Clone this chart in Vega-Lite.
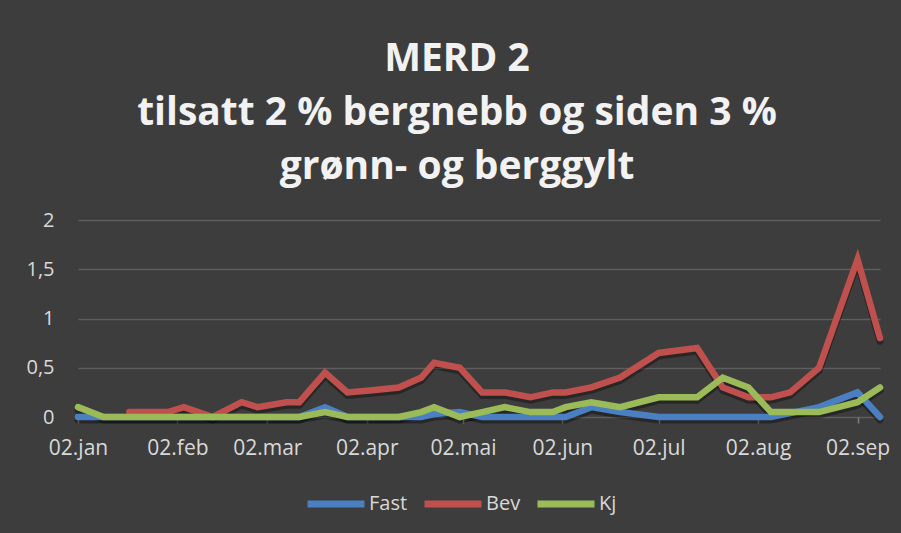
{
  "$schema": "https://vega.github.io/schema/vega-lite/v6.json",
  "width": 802,
  "height": 197,
  "autosize": {"type": "none"},
  "padding": {"left": 78, "top": 220, "right": 21, "bottom": 116},
  "background": "#3d3d3d",
  "title": {
    "text": ["MERD 2", "tilsatt 2 % bergnebb og siden 3 %", "grønn- og berggylt"],
    "font": "Open Sans",
    "fontSize": 39,
    "fontWeight": "bold",
    "color": "#f2f2f2",
    "lineHeight": 54,
    "anchor": "middle",
    "dx": -22,
    "offset": 23
  },
  "config": {
    "view": {"stroke": null},
    "font": "Open Sans"
  },
  "data": {
    "values": [
      {"date": "2023-01-02", "series": "Fast", "value": 0},
      {"date": "2023-01-10", "series": "Fast", "value": 0},
      {"date": "2023-01-18", "series": "Fast", "value": 0},
      {"date": "2023-01-30", "series": "Fast", "value": 0},
      {"date": "2023-02-04", "series": "Fast", "value": 0},
      {"date": "2023-02-13", "series": "Fast", "value": 0},
      {"date": "2023-02-22", "series": "Fast", "value": 0},
      {"date": "2023-02-27", "series": "Fast", "value": 0},
      {"date": "2023-03-08", "series": "Fast", "value": 0},
      {"date": "2023-03-12", "series": "Fast", "value": 0},
      {"date": "2023-03-20", "series": "Fast", "value": 0.1},
      {"date": "2023-03-27", "series": "Fast", "value": 0},
      {"date": "2023-04-03", "series": "Fast", "value": 0},
      {"date": "2023-04-12", "series": "Fast", "value": 0},
      {"date": "2023-04-19", "series": "Fast", "value": 0},
      {"date": "2023-04-23", "series": "Fast", "value": 0.03},
      {"date": "2023-05-01", "series": "Fast", "value": 0.05},
      {"date": "2023-05-08", "series": "Fast", "value": 0},
      {"date": "2023-05-15", "series": "Fast", "value": 0},
      {"date": "2023-05-23", "series": "Fast", "value": 0},
      {"date": "2023-05-30", "series": "Fast", "value": 0},
      {"date": "2023-06-03", "series": "Fast", "value": 0},
      {"date": "2023-06-11", "series": "Fast", "value": 0.1},
      {"date": "2023-06-20", "series": "Fast", "value": 0.05},
      {"date": "2023-07-02", "series": "Fast", "value": 0},
      {"date": "2023-07-14", "series": "Fast", "value": 0},
      {"date": "2023-07-22", "series": "Fast", "value": 0},
      {"date": "2023-07-30", "series": "Fast", "value": 0},
      {"date": "2023-08-06", "series": "Fast", "value": 0},
      {"date": "2023-08-12", "series": "Fast", "value": 0.04},
      {"date": "2023-08-21", "series": "Fast", "value": 0.1},
      {"date": "2023-09-02", "series": "Fast", "value": 0.25},
      {"date": "2023-09-09", "series": "Fast", "value": 0},
      {"date": "2023-01-18", "series": "Bev", "value": 0.05},
      {"date": "2023-01-30", "series": "Bev", "value": 0.05},
      {"date": "2023-02-04", "series": "Bev", "value": 0.1},
      {"date": "2023-02-13", "series": "Bev", "value": 0},
      {"date": "2023-02-22", "series": "Bev", "value": 0.15},
      {"date": "2023-02-27", "series": "Bev", "value": 0.1},
      {"date": "2023-03-08", "series": "Bev", "value": 0.15},
      {"date": "2023-03-12", "series": "Bev", "value": 0.15},
      {"date": "2023-03-20", "series": "Bev", "value": 0.45},
      {"date": "2023-03-27", "series": "Bev", "value": 0.25},
      {"date": "2023-04-03", "series": "Bev", "value": 0.27},
      {"date": "2023-04-12", "series": "Bev", "value": 0.3},
      {"date": "2023-04-19", "series": "Bev", "value": 0.4},
      {"date": "2023-04-23", "series": "Bev", "value": 0.55},
      {"date": "2023-05-01", "series": "Bev", "value": 0.5},
      {"date": "2023-05-08", "series": "Bev", "value": 0.25},
      {"date": "2023-05-15", "series": "Bev", "value": 0.25},
      {"date": "2023-05-23", "series": "Bev", "value": 0.2},
      {"date": "2023-05-30", "series": "Bev", "value": 0.25},
      {"date": "2023-06-03", "series": "Bev", "value": 0.25},
      {"date": "2023-06-11", "series": "Bev", "value": 0.3},
      {"date": "2023-06-20", "series": "Bev", "value": 0.4},
      {"date": "2023-07-02", "series": "Bev", "value": 0.65},
      {"date": "2023-07-14", "series": "Bev", "value": 0.7},
      {"date": "2023-07-22", "series": "Bev", "value": 0.3},
      {"date": "2023-07-30", "series": "Bev", "value": 0.2},
      {"date": "2023-08-06", "series": "Bev", "value": 0.2},
      {"date": "2023-08-12", "series": "Bev", "value": 0.25},
      {"date": "2023-08-21", "series": "Bev", "value": 0.5},
      {"date": "2023-09-02", "series": "Bev", "value": 1.6},
      {"date": "2023-09-09", "series": "Bev", "value": 0.8},
      {"date": "2023-01-02", "series": "Kj", "value": 0.1},
      {"date": "2023-01-10", "series": "Kj", "value": 0},
      {"date": "2023-01-18", "series": "Kj", "value": 0},
      {"date": "2023-01-30", "series": "Kj", "value": 0},
      {"date": "2023-02-04", "series": "Kj", "value": 0},
      {"date": "2023-02-13", "series": "Kj", "value": 0},
      {"date": "2023-02-22", "series": "Kj", "value": 0},
      {"date": "2023-02-27", "series": "Kj", "value": 0},
      {"date": "2023-03-08", "series": "Kj", "value": 0},
      {"date": "2023-03-12", "series": "Kj", "value": 0},
      {"date": "2023-03-20", "series": "Kj", "value": 0.05},
      {"date": "2023-03-27", "series": "Kj", "value": 0},
      {"date": "2023-04-03", "series": "Kj", "value": 0},
      {"date": "2023-04-12", "series": "Kj", "value": 0},
      {"date": "2023-04-19", "series": "Kj", "value": 0.05},
      {"date": "2023-04-23", "series": "Kj", "value": 0.1},
      {"date": "2023-05-01", "series": "Kj", "value": 0},
      {"date": "2023-05-08", "series": "Kj", "value": 0.05},
      {"date": "2023-05-15", "series": "Kj", "value": 0.1},
      {"date": "2023-05-23", "series": "Kj", "value": 0.05},
      {"date": "2023-05-30", "series": "Kj", "value": 0.05},
      {"date": "2023-06-03", "series": "Kj", "value": 0.1},
      {"date": "2023-06-11", "series": "Kj", "value": 0.15},
      {"date": "2023-06-20", "series": "Kj", "value": 0.1},
      {"date": "2023-07-02", "series": "Kj", "value": 0.2},
      {"date": "2023-07-14", "series": "Kj", "value": 0.2},
      {"date": "2023-07-22", "series": "Kj", "value": 0.4},
      {"date": "2023-07-30", "series": "Kj", "value": 0.3},
      {"date": "2023-08-06", "series": "Kj", "value": 0.05},
      {"date": "2023-08-12", "series": "Kj", "value": 0.05},
      {"date": "2023-08-21", "series": "Kj", "value": 0.05},
      {"date": "2023-09-02", "series": "Kj", "value": 0.15},
      {"date": "2023-09-09", "series": "Kj", "value": 0.3}
    ]
  },
  "encoding": {
    "x": {
      "field": "date",
      "type": "temporal",
      "scale": {"type": "utc", "nice": false},
      "axis": {
        "title": null,
        "grid": false,
        "domain": false,
        "ticks": true,
        "tickColor": "#808080",
        "tickSize": 6,
        "tickWidth": 1.5,
        "labelColor": "#d9d9d9",
        "labelFont": "Open Sans",
        "labelFontSize": 21,
        "labelPadding": 14,
        "labelFlush": false,
        "labelOverlap": false,
        "values": [
          {"year": 2023, "month": 1, "date": 2, "utc": true},
          {"year": 2023, "month": 2, "date": 2, "utc": true},
          {"year": 2023, "month": 3, "date": 2, "utc": true},
          {"year": 2023, "month": 4, "date": 2, "utc": true},
          {"year": 2023, "month": 5, "date": 2, "utc": true},
          {"year": 2023, "month": 6, "date": 2, "utc": true},
          {"year": 2023, "month": 7, "date": 2, "utc": true},
          {"year": 2023, "month": 8, "date": 2, "utc": true},
          {"year": 2023, "month": 9, "date": 2, "utc": true}
        ],
        "labelExpr": "'02.' + ['jan','feb','mar','apr','mai','jun','jul','aug','sep','okt','nov','des'][utcmonth(datum.value)]"
      }
    },
    "y": {
      "field": "value",
      "type": "quantitative",
      "scale": {"domain": [0, 2], "nice": false},
      "axis": {
        "title": null,
        "values": [0, 0.5, 1, 1.5, 2],
        "grid": true,
        "gridColor": "#5e5e5e",
        "gridWidth": 1.5,
        "domain": false,
        "ticks": false,
        "labelColor": "#d9d9d9",
        "labelFont": "Open Sans",
        "labelFontSize": 20,
        "labelPadding": 24,
        "labelExpr": "replace(format(datum.value, '.1~f'), '.', ',')"
      }
    }
  },
  "layer": [
    {
      "mark": {"type": "line", "color": "#000000", "opacity": 0.35, "strokeWidth": 7, "yOffset": 3, "strokeCap": "round"},
      "encoding": {"detail": {"field": "series", "type": "nominal"}}
    },
    {
      "mark": {"type": "line", "strokeWidth": 6.5, "strokeCap": "round", "strokeJoin": "miter"},
      "encoding": {
        "color": {
          "field": "series",
          "type": "nominal",
          "sort": ["Fast", "Bev", "Kj"],
          "scale": {"domain": ["Fast", "Bev", "Kj"], "range": ["#4a7fc1", "#c0504d", "#9bbb59"]},
          "legend": {
            "title": null,
            "orient": "none",
            "legendX": 226,
            "legendY": 252,
            "direction": "horizontal",
            "symbolType": "stroke",
            "symbolSize": 3249,
            "symbolStrokeWidth": 7,
            "columnPadding": 2,
            "labelOffset": 1,
            "labelColor": "#d9d9d9",
            "labelFont": "Open Sans",
            "labelFontSize": 20
          }
        }
      }
    }
  ]
}
